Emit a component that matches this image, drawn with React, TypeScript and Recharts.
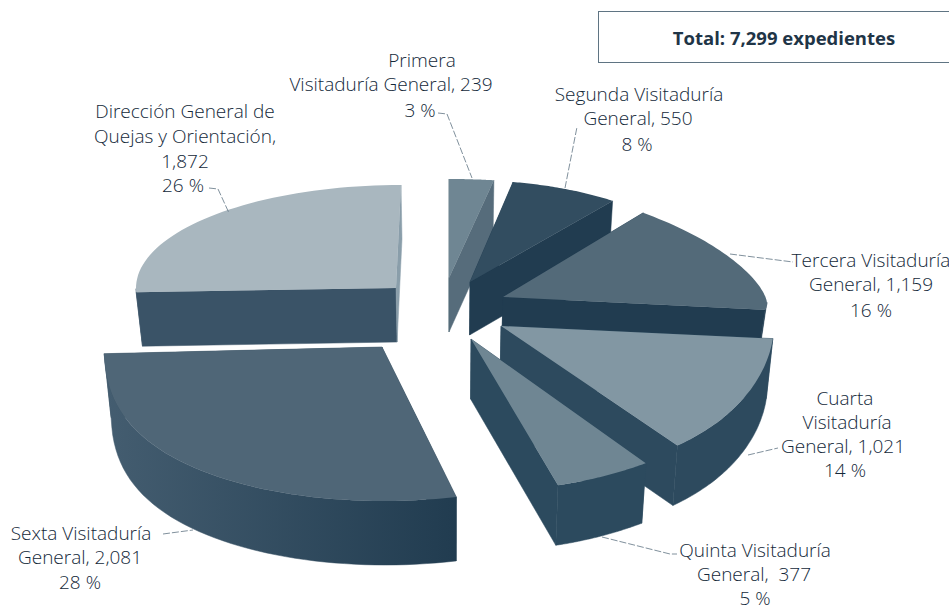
import { PieChart, Pie } from "recharts";

const categories = [
  "Primera Visitaduría General",
  "Segunda Visitaduría General",
  "Tercera Visitaduría General",
  "Cuarta Visitaduría General",
  "Quinta Visitaduría General",
  "Sexta Visitaduría General",
  "Dirección General de Quejas y Orientación",
];
const values = [239, 550, 1159, 1021, 377, 2081, 1872];
const labelLines = [
  ["Primera", "Visitaduría General, 239", "3 %"],
  ["Segunda Visitaduría", "General, 550", "8 %"],
  ["Tercera Visitaduría", "General, 1,159", "16 %"],
  ["Cuarta", "Visitaduría", "General, 1,021", "14 %"],
  ["Quinta Visitaduría", "General,  377", "5 %"],
  ["Sexta Visitaduría", "General, 2,081", "28 %"],
  ["Dirección General de", "Quejas y Orientación,", "1,872", "26 %"],
];
const total = "Total: 7,299 expedientes";

// colours: top face, radial walls (start edge, end edge), outer wall (left, right)
const topColors = ["#6f8693", "#324d60", "#536a79", "#8297a3", "#6f8693", "#4f6677", "#a9b7bf"];
const wallColors = ["#566c7b", "#213c50", "#213c50", "#2d4a5e", "#2c4a5e", "#2c4658", "#3a5367"];
const endWallColors = ["#566c7b", "#213c50", "#213c50", "#2d4a5e", "#2c4a5e", "#2c4658", "#8a9eaa"];
const rimLeft = ["#566c7b", "#213c50", "#213c50", "#2d4a5e", "#2c4a5e", "#445d70", "#3a5367"];
const rimRight = ["#566c7b", "#213c50", "#213c50", "#2d4a5e", "#2c4a5e", "#213c50", "#3a5367"];

// each wedge is pulled out on its own: tip, ellipse centre, radii, thickness, squareness
const wedges = [
  { ax: 449, ay: 278, ex: 449, ey: 239, rx: 220, ry: 60, d: 54, px: 1, py: 1 },
  { ax: 470, ay: 282, ex: 465, ey: 274, rx: 235, ry: 94, d: 53, px: 1, py: 1 },
  { ax: 503, ay: 297, ex: 434, ey: 303, rx: 333, ry: 125, d: 42, px: 1, py: 1.3 },
  { ax: 501, ay: 326, ex: 558, ey: 323, rx: 216, ry: 147, d: 60, px: 1, py: 1 },
  { ax: 471, ay: 339, ex: 481, ey: 324, rx: 298, ry: 167, d: 60, px: 1, py: 1 },
  { ax: 382, ay: 347, ex: 384, ey: 339, rx: 280, ry: 162, d: 64, px: 1, py: 0.75 },
  { ax: 396, ay: 288, ex: 401, ey: 288, rx: 265, ry: 103, d: 54, px: 1, py: 1 },
];

// the bottom of the pie narrows a little towards this x
const vanishX = 450;
const narrowing = 0.02;

// text centres, line baselines, leader line
const labelPos = [
  { xs: [422, 391, 420], ys: [67, 91, 117], leader: [[438, 113], [447, 114], [472, 178]] },
  { xs: [639, 638, 637], ys: [101, 125, 151], leader: [[565, 188], [577, 127]] },
  { xs: [871, 871, 871], ys: [267, 291, 317], leader: [[730, 254], [793, 262]] },
  { xs: [845, 847, 843, 845], ys: [405, 429, 453, 477], leader: [[748, 455], [778, 448]] },
  { xs: [755, 754, 755], ys: [557, 581, 605], leader: [[602, 537], [670, 554], [677, 554]] },
  { xs: [81, 80, 80], ys: [540, 564, 589], leader: [[163, 534], [193, 530]] },
  { xs: [185, 185, 185, 183], ys: [118, 143, 168, 192], leader: [[209, 188], [218, 189], [229, 213]] },
];

const data = categories.map((name, i) => ({ name, value: values[i] }));

const spow = (v: number, p: number) => Math.sign(v) * Math.pow(Math.abs(v), p);

function WedgeShape(props: any) {
  const i = categories.indexOf(props.name ?? props.payload?.name);
  const w = wedges[i];
  const rad = Math.PI / 180;
  const at = (deg: number): [number, number] => [
    w.ex + w.rx * spow(Math.cos(deg * rad), w.px),
    w.ey - w.ry * spow(Math.sin(deg * rad), w.py),
  ];
  const steps = 48;
  const arc: [number, number][] = [];
  const frontArc: [number, number][] = []; // only the part of the rim facing the viewer
  for (let s = 0; s <= steps; s++) {
    const deg = props.startAngle + ((props.endAngle - props.startAngle) * s) / steps;
    arc.push(at(deg));
    if (Math.sin(deg * rad) <= 0.02) frontArc.push(at(deg));
  }
  const first = arc[0];
  const last = arc[steps];
  const poly = (pts: [number, number][]) => "M" + pts.map((q) => q[0].toFixed(1) + " " + q[1].toFixed(1)).join("L") + "Z";
  const down = (q: [number, number]): [number, number] => [q[0] + (vanishX - q[0]) * narrowing, q[1] + w.d];
  const tip: [number, number] = [w.ax, w.ay];
  const gid = "rim" + i;
  const xs = arc.map((q) => q[0]);
  return (
    <g>
      <defs>
        <linearGradient id={gid} gradientUnits="userSpaceOnUse" x1={Math.min(...xs)} x2={Math.max(...xs)} y1={0} y2={0}>
          <stop offset="0%" stopColor={rimLeft[i]} />
          <stop offset="100%" stopColor={rimRight[i]} />
        </linearGradient>
      </defs>
      <path d={poly([tip, first, down(first), down(tip)])} fill={wallColors[i]} stroke={wallColors[i]} strokeWidth={0.5} />
      <path d={poly([tip, last, down(last), down(tip)])} fill={endWallColors[i]} stroke={endWallColors[i]} strokeWidth={0.5} />
      {frontArc.length > 1 && (
        <path
          d={poly([...frontArc, ...frontArc.map(down).reverse()])}
          fill={`url(#${gid})`}
          stroke={`url(#${gid})`}
          strokeWidth={0.5}
        />
      )}
      <path d={poly([tip, ...arc])} fill={topColors[i]} />
    </g>
  );
}

function WedgeLabel(props: any) {
  const i = props.index;
  const pos = labelPos[i];
  return (
    <g>
      <polyline
        points={pos.leader.map((q) => q.join(",")).join(" ")}
        fill="none"
        stroke="#5f7483"
        strokeWidth={0.8}
        strokeDasharray="7 2"
      />
      {labelLines[i].map((line, k) => (
        <text
          key={k}
          x={pos.xs[k]}
          y={pos.ys[k]}
          textAnchor="middle"
          fill="#14293a"
          fontFamily="'Open Sans', sans-serif"
          fontWeight={300}
          fontSize={19}
          style={{ whiteSpace: "pre" }}
        >
          {line}
        </text>
      ))}
    </g>
  );
}

export default function App() {
  return (
    <div style={{ position: "absolute", left: 0, top: 0, width: 949, height: 611, background: "#fff", overflow: "hidden" }}>
      <PieChart width={949} height={611} margin={{ top: 0, right: 0, bottom: 0, left: 0 }}>
        <Pie
          data={data}
          dataKey="value"
          nameKey="name"
          cx={450}
          cy={330}
          outerRadius={250}
          startAngle={90}
          endAngle={-270}
          stroke="none"
          shape={WedgeShape}
          label={WedgeLabel}
          labelLine={false}
          isAnimationActive={false}
        />
      </PieChart>
      <div
        style={{
          position: "absolute",
          left: 598,
          top: 11,
          width: 360,
          height: 50,
          border: "1.5px solid #5f7483",
          boxSizing: "content-box",
        }}
      />
      <div
        style={{
          position: "absolute",
          left: 598,
          top: 25,
          width: 372,
          textAlign: "center",
          fontFamily: "'Open Sans', sans-serif",
          fontWeight: 700,
          fontSize: 18.5,
          color: "#1f3547",
        }}
      >
        {total}
      </div>
    </div>
  );
}
